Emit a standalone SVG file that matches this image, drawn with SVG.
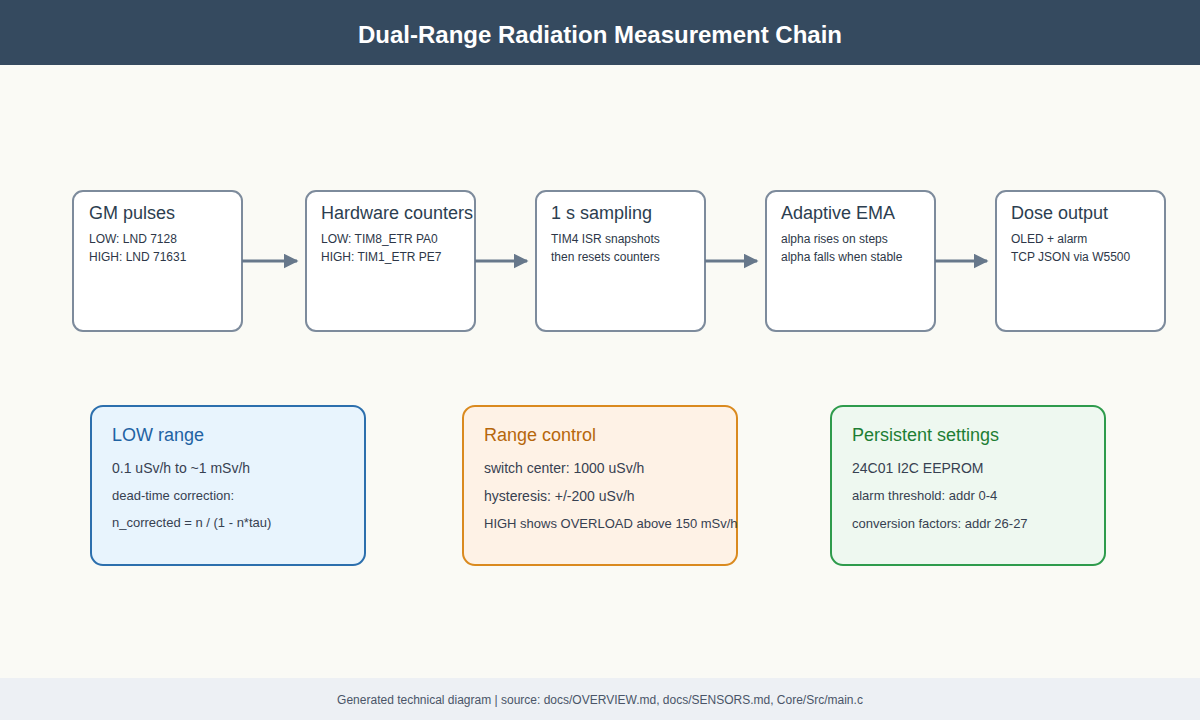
<svg xmlns="http://www.w3.org/2000/svg" width="1200" height="720" viewBox="0 0 1200 720">
  <style>
    text { font-family: "Liberation Sans", Arial, sans-serif; }
    .title { font-size: 24px; font-weight: bold; fill: #ffffff; }
    .stage rect { fill: #ffffff; stroke: #7d8b9c; stroke-width: 2; }
    .stage .h { font-size: 18px; fill: #2c3e50; }
    .stage .d { font-size: 12px; fill: #2d3748; }
    .panel .h { font-size: 18px; }
    .panel .l1 { font-size: 14px; fill: #374151; }
    .panel .l2 { font-size: 13px; fill: #374151; }
    .flow { stroke: #67788b; stroke-width: 3; fill: none; marker-end: url(#arrow); }
    .foot { font-size: 12px; fill: #4a5568; }
  </style>
  <defs>
    <marker id="arrow" viewBox="0 0 10 10" refX="9" refY="5" markerWidth="5" markerHeight="5" orient="auto" markerUnits="strokeWidth">
      <path d="M0,0 L10,5 L0,10 z" fill="#67788b"/>
    </marker>
  </defs>

  <!-- background, header and footer -->
  <rect x="0" y="0" width="1200" height="720" fill="#fafaf5"/>
  <rect x="0" y="0" width="1200" height="65" fill="#354a5f"/>
  <text class="title" x="600" y="43" text-anchor="middle">Dual-Range Radiation Measurement Chain</text>
  <rect x="0" y="678" width="1200" height="42" fill="#edf0f4"/>
  <text class="foot" x="600" y="704" text-anchor="middle">Generated technical diagram | source: docs/OVERVIEW.md, docs/SENSORS.md, Core/Src/main.c</text>

  <!-- processing stages -->
  <g id="gm-pulses" class="stage">
    <rect x="73" y="191" width="169" height="140" rx="10"/>
    <text class="h" x="89" y="219">GM pulses</text>
    <text class="d" x="89" y="243">LOW: LND 7128</text>
    <text class="d" x="89" y="261">HIGH: LND 71631</text>
  </g>
  <g id="hw-counters" class="stage">
    <rect x="306" y="191" width="169" height="140" rx="10"/>
    <text class="h" x="321" y="219">Hardware counters</text>
    <text class="d" x="321" y="243">LOW: TIM8_ETR PA0</text>
    <text class="d" x="321" y="261">HIGH: TIM1_ETR PE7</text>
  </g>
  <g id="sampling" class="stage">
    <rect x="536" y="191" width="169" height="140" rx="10"/>
    <text class="h" x="551" y="219">1 s sampling</text>
    <text class="d" x="551" y="243">TIM4 ISR snapshots</text>
    <text class="d" x="551" y="261">then resets counters</text>
  </g>
  <g id="adaptive-ema" class="stage">
    <rect x="766" y="191" width="169" height="140" rx="10"/>
    <text class="h" x="781" y="219">Adaptive EMA</text>
    <text class="d" x="781" y="243">alpha rises on steps</text>
    <text class="d" x="781" y="261">alpha falls when stable</text>
  </g>
  <g id="dose-output" class="stage">
    <rect x="996" y="191" width="169" height="140" rx="10"/>
    <text class="h" x="1011" y="219">Dose output</text>
    <text class="d" x="1011" y="243">OLED + alarm</text>
    <text class="d" x="1011" y="261">TCP JSON via W5500</text>
  </g>

  <!-- connectors -->
  <g id="connectors">
    <line class="flow" x1="242" y1="261" x2="297" y2="261"/>
    <line class="flow" x1="475" y1="261" x2="527" y2="261"/>
    <line class="flow" x1="705" y1="261" x2="757" y2="261"/>
    <line class="flow" x1="935" y1="261" x2="987" y2="261"/>
  </g>

  <!-- detail panels -->
  <g id="low-range" class="panel">
    <rect x="91" y="406" width="274" height="159" rx="12" fill="#e8f4fd" stroke="#2c6fad" stroke-width="2"/>
    <text class="h" x="112" y="441" fill="#1f62a3">LOW range</text>
    <text class="l1" x="112" y="473">0.1 uSv/h to ~1 mSv/h</text>
    <text class="l2" x="112" y="500">dead-time correction:</text>
    <text class="l2" x="112" y="527">n_corrected = n / (1 - n*tau)</text>
  </g>
  <g id="range-control" class="panel">
    <rect x="463" y="406" width="274" height="159" rx="12" fill="#fef2e6" stroke="#da8a1f" stroke-width="2"/>
    <text class="h" x="484" y="441" fill="#b6670c">Range control</text>
    <text class="l1" x="484" y="473">switch center: 1000 uSv/h</text>
    <text class="l1" x="484" y="501">hysteresis: +/-200 uSv/h</text>
    <text class="l2" x="484" y="528">HIGH shows OVERLOAD above 150 mSv/h</text>
  </g>
  <g id="persistent-settings" class="panel">
    <rect x="831" y="406" width="274" height="159" rx="12" fill="#eef8f0" stroke="#2e9b4c" stroke-width="2"/>
    <text class="h" x="852" y="441" fill="#1e7e34">Persistent settings</text>
    <text class="l1" x="852" y="473">24C01 I2C EEPROM</text>
    <text class="l2" x="852" y="500">alarm threshold: addr 0-4</text>
    <text class="l2" x="852" y="528">conversion factors: addr 26-27</text>
  </g>
</svg>
